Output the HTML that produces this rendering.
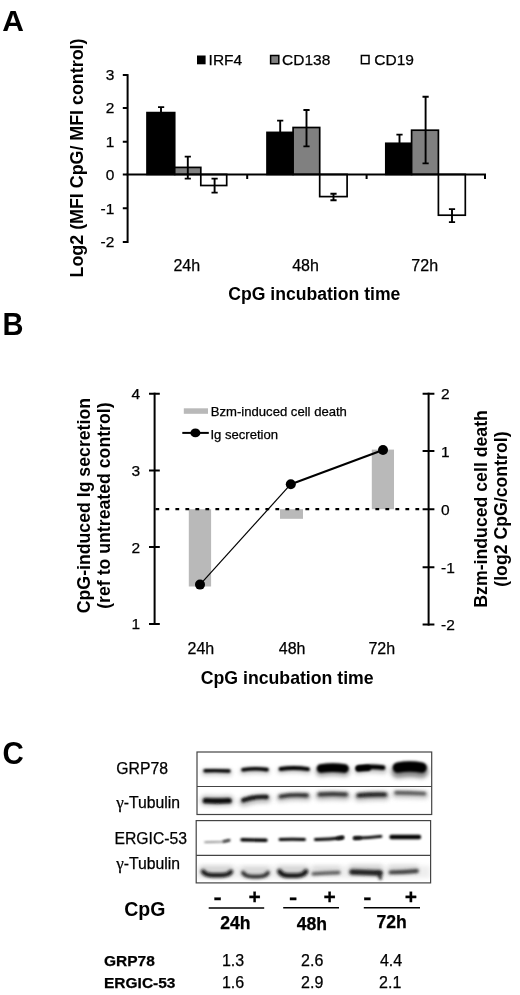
<!DOCTYPE html>
<html><head><meta charset="utf-8"><title>Figure</title>
<style>
html,body{margin:0;padding:0;background:#fff;}
svg{display:block;}
text{font-family:"Liberation Sans",sans-serif;fill:#000;stroke:#000;stroke-width:.25px;}
.b{font-weight:bold;stroke:none;}
.t{font-size:15.5px;}
.ax{stroke:#000;stroke-width:2;fill:none;}
.eb{stroke:#000;stroke-width:1.9;fill:none;}
</style></head><body>
<svg width="520" height="995" viewBox="0 0 520 995">
<rect width="520" height="995" fill="#fff"/>
<defs>
<filter id="bl1" filterUnits="userSpaceOnUse" x="180" y="740" width="270" height="160"><feGaussianBlur stdDeviation="0.9"/></filter>
<filter id="bl2" filterUnits="userSpaceOnUse" x="180" y="740" width="270" height="160"><feGaussianBlur stdDeviation="1.4"/></filter>
<filter id="bl3" filterUnits="userSpaceOnUse" x="180" y="740" width="270" height="160"><feGaussianBlur stdDeviation="2.2"/></filter>
<clipPath id="cb1"><rect x="197.6" y="752.6" width="233.5" height="61.3"/></clipPath>
<clipPath id="cb2"><rect x="196.8" y="821.2" width="233.2" height="60.6"/></clipPath>
</defs>

<!-- ================= Panel A ================= -->
<g id="panelA">
<text class="b" x="2.3" y="31" font-size="30">A</text>
<text class="b" font-size="17.85" text-anchor="middle" transform="translate(83.4,158) rotate(-90)">Log2 (MFI CpG/ MFI control)</text>
<!-- legend -->
<rect x="197" y="55.5" width="8.6" height="8.8" fill="#000"/>
<text class="t" x="208.6" y="65.2">IRF4</text>
<rect x="270.6" y="55.5" width="8.2" height="8.2" fill="#808080" stroke="#000" stroke-width="1.5"/>
<text class="t" x="282.1" y="65.2">CD138</text>
<rect x="361.4" y="55.5" width="7.6" height="8.2" fill="#fff" stroke="#000" stroke-width="1.5"/>
<text class="t" x="374.3" y="65.2">CD19</text>
<!-- bars -->
<g stroke="#000" stroke-width="1.7">
<rect x="147" y="112.6" width="27.7" height="61.8" fill="#000"/>
<rect x="174.7" y="167.4" width="26.1" height="7" fill="#808080"/>
<rect x="200.8" y="174.4" width="25.9" height="11.1" fill="#fff"/>
<rect x="267" y="132.4" width="26.1" height="42" fill="#000"/>
<rect x="293.1" y="127.5" width="26.6" height="46.9" fill="#808080"/>
<rect x="319.7" y="174.4" width="27.4" height="22.2" fill="#fff"/>
<rect x="385.8" y="143.3" width="25.8" height="31.1" fill="#000"/>
<rect x="411.6" y="130.2" width="26.8" height="44.2" fill="#808080"/>
<rect x="438.4" y="174.4" width="26.9" height="40.8" fill="#fff"/>
</g>
<!-- error bars -->
<g class="eb">
<path d="M161,112.6V107.1M158,107.1h6.2"/>
<path d="M187.8,156.6V178.6M184.7,156.6h6.2M184.7,178.6h6.2"/>
<path d="M214.6,178.6V192.6M211.5,178.6h6.2M211.5,192.6h6.2"/>
<path d="M280.2,132.6V120.6M277.1,120.6h6.2"/>
<path d="M306.5,110V146.4M303.4,110h6.2M303.4,146.4h6.2"/>
<path d="M333.5,193.7V200.2M330.4,193.7h6.2M330.4,200.2h6.2"/>
<path d="M399.5,143.3V134.6M396.4,134.6h6.2"/>
<path d="M425.6,96.8V163.4M422.5,96.8h6.2M422.5,163.4h6.2"/>
<path d="M452,209.1V222.1M448.9,209.1h6.2M448.9,222.1h6.2"/>
</g>
<!-- axes -->
<path class="ax" d="M127.6,74.1V243"/>
<path class="ax" d="M122.8,75.1H127.6M122.8,108H127.6M122.8,141.7H127.6M122.8,174.4H127.6M122.8,208.2H127.6M122.8,242H127.6"/>
<path class="ax" d="M126.6,174.4H486"/>
<path class="ax" d="M247.2,174.4V179.1M366.6,174.4V179.1M485,174.4V179.1"/>
<g class="t" text-anchor="end">
<text x="114.3" y="80.3">3</text>
<text x="114.3" y="113.3">2</text>
<text x="114.3" y="147">1</text>
<text x="114.3" y="179.8">0</text>
<text x="114.3" y="213.6">-1</text>
<text x="114.3" y="247.4">-2</text>
</g>
<g font-size="16" text-anchor="middle">
<text x="186.8" y="271">24h</text>
<text x="305.5" y="271">48h</text>
<text x="424.7" y="271">72h</text>
</g>
<text class="b" font-size="17.6" text-anchor="middle" x="314.3" y="300.2">CpG incubation time</text>
</g>

<!-- ================= Panel B ================= -->
<g id="panelB">
<text class="b" transform="translate(2.6,335.3) scale(0.95,1)" font-size="30.6">B</text>
<text class="b" font-size="17.7" text-anchor="middle" transform="translate(90.4,505.6) rotate(-90)">CpG-induced Ig secretion</text>
<text class="b" font-size="17.7" text-anchor="middle" transform="translate(110,505.6) rotate(-90)">(ref to untreated control)</text>
<text class="b" font-size="17.7" text-anchor="middle" transform="translate(487.4,508.9) rotate(-90)">Bzm-induced cell death</text>
<text class="b" font-size="17.7" text-anchor="middle" transform="translate(506.8,509.1) rotate(-90)">(log2 CpG/control)</text>
<!-- gray bars -->
<g fill="#b9b9b9">
<rect x="188.8" y="509.2" width="22.3" height="77.3"/>
<rect x="280" y="509.2" width="23" height="9.6"/>
<rect x="371.8" y="449.6" width="22.2" height="59.6"/>
<rect x="183.8" y="408.3" width="24.2" height="5.5"/>
</g>
<!-- dashed zero line -->
<path d="M155.4,509.2H422" stroke="#000" stroke-width="2.2" stroke-dasharray="3.8 6.2" fill="none"/>
<!-- Ig line -->
<path d="M200,584.6L290.8,484.2" stroke="#000" stroke-width="1.2" fill="none"/>
<path d="M290.8,484.2L383,450" stroke="#000" stroke-width="2.2" fill="none"/>
<circle cx="200" cy="584.6" r="5"/>
<circle cx="290.8" cy="484.2" r="5"/>
<circle cx="383" cy="450" r="5"/>
<!-- legend line -->
<path d="M182.3,432.9H208.8" stroke="#000" stroke-width="2" fill="none"/>
<ellipse cx="195.4" cy="432.9" rx="5" ry="4.4"/>
<text font-size="13.1" x="210.8" y="416.4">Bzm-induced cell death</text>
<text font-size="13.1" x="210.4" y="438.9">Ig secretion</text>
<!-- axes -->
<path class="ax" d="M154.6,392.7V625"/>
<path class="ax" d="M149,393.7H159.8M149,470.4H159.8M149,547.1H159.8M149,624H159.8"/>
<path class="ax" d="M428.6,392.7V625.6"/>
<path class="ax" d="M422.6,393.7H434.4M422.6,451.1H434.4M422.6,509.2H434.4M422.6,567.2H434.4M422.6,624.6H434.4"/>
<g class="t" text-anchor="end">
<text x="140" y="399.1">4</text>
<text x="140" y="475.8">3</text>
<text x="140" y="552.5">2</text>
<text x="140" y="629.2">1</text>
</g>
<g class="t">
<text x="441" y="399.1">2</text>
<text x="441" y="456.5">1</text>
<text x="441" y="514.6">0</text>
<text x="441" y="572.6">-1</text>
<text x="441" y="630">-2</text>
</g>
<g font-size="16" text-anchor="middle">
<text x="200.9" y="653.5">24h</text>
<text x="292.1" y="653.5">48h</text>
<text x="381.8" y="653.5">72h</text>
</g>
<text class="b" font-size="17.7" text-anchor="middle" x="287.2" y="683.5">CpG incubation time</text>
</g>

<!-- ================= Panel C ================= -->
<g id="panelC">
<text class="b" transform="translate(2.5,764) scale(0.935,1)" font-size="31.5">C</text>
<g font-size="15.75">
<text x="116.3" y="773.7">GRP78</text>
<text x="116.2" y="808.3"><tspan font-family="'Liberation Serif',serif" font-size="17">γ</tspan>-Tubulin</text>
<text x="114.4" y="843.8">ERGIC-53</text>
<text x="116.2" y="869.2"><tspan font-family="'Liberation Serif',serif" font-size="17">γ</tspan>-Tubulin</text>
</g>
<!-- blot boxes -->
<rect x="197" y="752" width="234.7" height="62.5" fill="#fff" stroke="#444" stroke-width="1.2"/>
<path d="M197,786.5H431.7" stroke="#444" stroke-width="1.2"/>
<rect x="196.2" y="820.6" width="234.4" height="62.3" fill="#fff" stroke="#444" stroke-width="1.2"/>
<path d="M196.2,855.3H430.6" stroke="#444" stroke-width="1.2"/>
<g id="bands" fill="none" stroke-linecap="round">
<g clip-path="url(#cb1)">
<path d="M205.0,772.3Q217.0,771.8 229.0,772.5" stroke="#888" stroke-width="6" opacity="0.5" filter="url(#bl3)"/>
<path d="M205.0,770.8Q217.0,770.3 229.0,771.0" stroke="#000" stroke-width="3.4" opacity="1" filter="url(#bl1)"/>
<path d="M243.0,771.3Q255.0,769.4 267.0,771.1" stroke="#888" stroke-width="6" opacity="0.5" filter="url(#bl3)"/>
<path d="M243.0,769.8Q255.0,767.9 267.0,769.6" stroke="#000" stroke-width="3.6" opacity="1" filter="url(#bl1)"/>
<path d="M280.5,770.5Q294.2,768.4 308.0,770.7" stroke="#888" stroke-width="6" opacity="0.5" filter="url(#bl3)"/>
<path d="M280.5,769.0Q294.2,766.9 308.0,769.2" stroke="#000" stroke-width="3.8" opacity="1" filter="url(#bl1)"/>
<path d="M321.0,771.1Q332.8,769.1 344.5,771.1" stroke="#666" stroke-width="11" opacity="0.6" filter="url(#bl3)"/>
<path d="M321.0,768.6Q332.8,766.6 344.5,768.6" stroke="#000" stroke-width="8.6" opacity="1" filter="url(#bl1)"/>
<path d="M358.5,770.2Q370.8,767.7 383.0,769.6" stroke="#888" stroke-width="8" opacity="0.5" filter="url(#bl3)"/>
<path d="M358.5,768.2Q370.8,765.7 383.0,767.6" stroke="#000" stroke-width="4.8" opacity="1" filter="url(#bl1)"/>
<path d="M358.5,768.6L368,768" stroke="#000" stroke-width="6" filter="url(#bl1)"/>
<path d="M398.0,771.1Q409.8,769.1 421.5,771.1" stroke="#555" stroke-width="14" opacity="0.7" filter="url(#bl3)"/>
<path d="M398.0,767.6Q409.8,765.6 421.5,767.6" stroke="#000" stroke-width="10.5" opacity="1" filter="url(#bl1)"/>
<path d="M205.5,800.6Q217.2,801.4 229.0,800.6" stroke="#888" stroke-width="10" opacity="0.6" filter="url(#bl3)"/>
<path d="M205.5,800.6Q217.2,801.4 229.0,800.6" stroke="#0a0a0a" stroke-width="5.4" opacity="1" filter="url(#bl1)"/>
<path d="M243.5,801.7Q255.0,797.7 266.5,798.5" stroke="#888" stroke-width="9" opacity="0.6" filter="url(#bl3)"/>
<path d="M243.5,800.2Q255.0,796.2 266.5,797.0" stroke="#1a1a1a" stroke-width="4.4" opacity="1" filter="url(#bl1)"/>
<path d="M280.5,797.9Q293.8,795.6 307.0,796.9" stroke="#999" stroke-width="8" opacity="0.6" filter="url(#bl3)"/>
<path d="M280.5,796.4Q293.8,794.1 307.0,795.4" stroke="#1a1a1a" stroke-width="3.6" opacity="1" filter="url(#bl2)"/>
<path d="M319.5,795.9Q332.8,795.1 346.0,795.9" stroke="#999" stroke-width="9" opacity="0.6" filter="url(#bl3)"/>
<path d="M319.5,794.4Q332.8,793.6 346.0,794.4" stroke="#2a2a2a" stroke-width="4" opacity="1" filter="url(#bl2)"/>
<path d="M358.5,796.9Q371.8,795.7 385.0,796.1" stroke="#999" stroke-width="9" opacity="0.6" filter="url(#bl3)"/>
<path d="M358.5,795.4Q371.8,794.2 385.0,794.6" stroke="#1a1a1a" stroke-width="4.4" opacity="1" filter="url(#bl2)"/>
<path d="M396.0,794.3Q410.2,794.3 424.5,795.1" stroke="#aaa" stroke-width="8" opacity="0.6" filter="url(#bl3)"/>
<path d="M396.0,792.8Q410.2,792.8 424.5,793.6" stroke="#484848" stroke-width="3.4" opacity="1" filter="url(#bl2)"/>
</g>
<g clip-path="url(#cb2)">
<path d="M205,842.2L222,841.8L229,840.4" stroke="#777" stroke-width="1.6" filter="url(#bl1)"/>
<path d="M224,841.4L229.2,840.2" stroke="#444" stroke-width="2.6" filter="url(#bl1)"/>
<path d="M242.0,839.8Q254.0,840.0 266.0,840.2" stroke="#000" stroke-width="3.4" opacity="1" filter="url(#bl1)"/>
<path d="M280.0,839.4Q292.2,839.0 304.5,839.4" stroke="#000" stroke-width="3" opacity="1" filter="url(#bl1)"/>
<path d="M315.5,839.6Q329.0,839.7 342.5,837.8" stroke="#000" stroke-width="3" opacity="1" filter="url(#bl1)"/>
<path d="M338,838.4L342.6,837.4" stroke="#111" stroke-width="3.2" filter="url(#bl1)"/>
<path d="M354.5,838.2Q367.8,837.9 381.0,836.4" stroke="#000" stroke-width="2.8" opacity="1" filter="url(#bl1)"/>
<path d="M354.8,838.2L360,838" stroke="#111" stroke-width="3.2" filter="url(#bl1)"/>
<path d="M391.5,837.0Q405.2,837.0 419.0,837.0" stroke="#000" stroke-width="4.4" opacity="1" filter="url(#bl1)"/>
<rect x="201" y="866" width="31" height="10" fill="#aaa" opacity="0.55" stroke="none" filter="url(#bl3)"/>
<rect x="242" y="867" width="27" height="10" fill="#aaa" opacity="0.5" stroke="none" filter="url(#bl3)"/>
<rect x="278" y="866" width="29" height="10" fill="#aaa" opacity="0.55" stroke="none" filter="url(#bl3)"/>
<rect x="313" y="866" width="27" height="8" fill="#bbb" opacity="0.5" stroke="none" filter="url(#bl3)"/>
<rect x="350" y="865" width="32" height="10" fill="#aaa" opacity="0.55" stroke="none" filter="url(#bl3)"/>
<rect x="389" y="865" width="29" height="8" fill="#bbb" opacity="0.5" stroke="none" filter="url(#bl3)"/>
<rect x="197" y="866" width="233" height="12" fill="#ddd" opacity="0.5" stroke="none" filter="url(#bl3)"/>
<path d="M203,871.6Q205.5,875.2 212,875.2L222,875.2Q228.5,875.2 231,871.8" stroke="#111" stroke-width="4.4" stroke-linejoin="round" filter="url(#bl2)"/>
<path d="M243,872.8Q245.5,876.6 252,876.6L259,876.6Q265.5,876.6 268,872.8" stroke="#222" stroke-width="3.8" stroke-linejoin="round" filter="url(#bl2)"/>
<path d="M279.5,871.4Q282.0,875.6 288.5,875.6L297,875.6Q303.5,875.6 306,871.6" stroke="#111" stroke-width="4.8" stroke-linejoin="round" filter="url(#bl2)"/>
<path d="M313.0,873.8Q326.0,872.8 339.0,872.6" stroke="#4a4a4a" stroke-width="3.2" opacity="1" filter="url(#bl2)"/>
<path d="M352.0,872.0Q366.0,872.7 380.0,873.0" stroke="#1a1a1a" stroke-width="5.6" opacity="1" filter="url(#bl2)"/>
<path d="M379,873L380.5,878.5" stroke="#222" stroke-width="3" filter="url(#bl2)"/>
<path d="M390.5,872.4Q403.8,872.3 417.0,871.0" stroke="#333" stroke-width="3.8" opacity="1" filter="url(#bl2)"/>
</g>
</g>
<!-- labels below -->
<text class="b" font-size="19.5" x="124.2" y="915.7">CpG</text>
<g class="b" font-size="21" text-anchor="middle">
<text x="217.5" y="903.9" textLength="8.2" lengthAdjust="spacingAndGlyphs">-</text>
<text x="254.6" y="904">+</text>
<text x="293.2" y="903.9" textLength="8.2" lengthAdjust="spacingAndGlyphs">-</text>
<text x="329.6" y="904">+</text>
<text x="367.3" y="903.9" textLength="8.2" lengthAdjust="spacingAndGlyphs">-</text>
<text x="411" y="904">+</text>
</g>
<path d="M208.7,908H264.2M283.2,907.8H339M363.8,907.8H420" stroke="#000" stroke-width="1.5"/>
<g class="b" font-size="17.6" text-anchor="middle">
<text x="235.4" y="928.7">24h</text>
<text x="311.8" y="929.6">48h</text>
<text x="391.7" y="927.6">72h</text>
</g>
<g class="b" font-size="15.5">
<text x="104" y="965.5">GRP78</text>
<text x="104" y="988">ERGIC-53</text>
</g>
<g font-size="16" text-anchor="middle">
<text x="233" y="965.5">1.3</text>
<text x="312.2" y="965.5">2.6</text>
<text x="391" y="965.5">4.4</text>
<text x="233" y="988">1.6</text>
<text x="312.2" y="988">2.9</text>
<text x="390.2" y="988">2.1</text>
</g>
</g>
</svg>
</body></html>
